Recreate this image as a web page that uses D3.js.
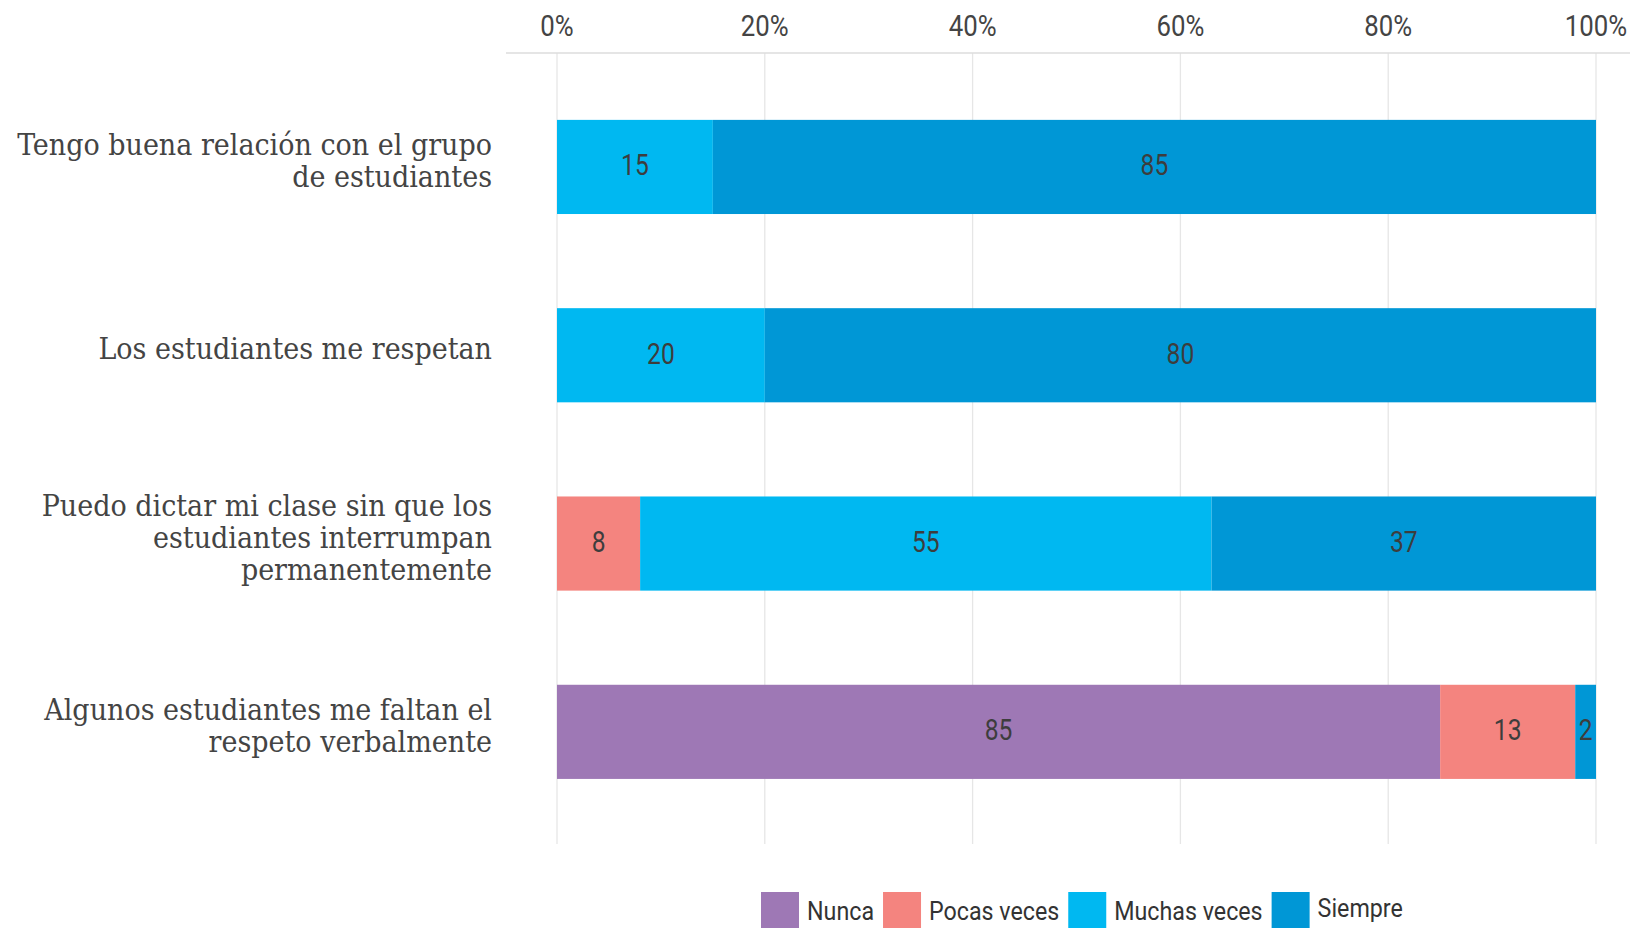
<!DOCTYPE html>
<html><head><meta charset="utf-8">
<script src="https://cdn.jsdelivr.net/npm/d3@7"></script>
<style>
html,body{margin:0;padding:0;background:#fff;}
svg{display:block;}
</style></head>
<body>
<svg id="chart" width="1630" height="928"></svg>
<script>
const categories = [
  ["Tengo buena relación con el grupo", "de estudiantes"],
  ["Los estudiantes me respetan"],
  ["Puedo dictar mi clase sin que los", "estudiantes interrumpan", "permanentemente"],
  ["Algunos estudiantes me faltan el", "respeto verbalmente"]
];
const seriesNames = ["Nunca", "Pocas veces", "Muchas veces", "Siempre"];
const nunca = [0, 0, 0, 85];
const pocas = [0, 0, 8, 13];
const muchas = [15, 20, 55, 0];
const siempre = [85, 80, 37, 2];
const colors = ["#9e78b5", "#f4847f", "#00b8f1", "#0097d6"];
const tickValues = [0, 20, 40, 60, 80, 100];

const svg = d3.select("#chart");
const W = 1630, H = 928;
const x = d3.scaleLinear().domain([0, 100]).range([557, 1596]);
const y = d3.scaleBand().domain(d3.range(categories.length)).range([72.8, 826]).paddingInner(0.5).paddingOuter(0.25);

const rows = categories.map((c, i) => ({i, vals: [nunca[i], pocas[i], muchas[i], siempre[i]]}));
const stack = d3.stack().keys([0,1,2,3]).value((d, k) => d.vals[k]);
const stacked = stack(rows);

// gridlines
svg.append("g").selectAll("line").data(tickValues).join("line")
  .attr("x1", d => x(d)).attr("x2", d => x(d))
  .attr("y1", 53).attr("y2", 844)
  .attr("stroke", "#e6e6e6").attr("stroke-width", 1.3);
// top axis line
svg.append("line").attr("x1", 506).attr("x2", W).attr("y1", 53).attr("y2", 53)
  .attr("stroke", "#dcdcdc").attr("stroke-width", 1.5);

// tick labels
const condensed = "Roboto, 'Liberation Sans', sans-serif";
svg.append("g").selectAll("text").data(tickValues).join("text")
  .attr("transform", d => `translate(${x(d)},${36}) scale(0.86,1)`)
  .attr("text-anchor", "middle")
  .attr("font-family", condensed).attr("font-size", 30)
  .attr("fill", "#444")
  .text(d => d + "%");

// bars
const layers = svg.append("g").selectAll("g").data(stacked).join("g")
  .attr("fill", (d, k) => colors[k]);
layers.selectAll("rect").data(d => d.filter(s => s[1] - s[0] > 0)).join("rect")
  .attr("x", d => x(d[0]))
  .attr("width", d => x(d[1]) - x(d[0]))
  .attr("y", d => y(d.data.i))
  .attr("height", y.bandwidth());

// data labels
const labels = [];
stacked.forEach(layer => layer.forEach(s => { if (s[1] - s[0] > 0) labels.push(s); }));
svg.append("g").selectAll("text").data(labels).join("text")
  .attr("transform", d => `translate(${(x(d[0]) + x(d[1])) / 2},${y(d.data.i) + y.bandwidth() / 2 + 8.5}) scale(0.82,1)`)
  .attr("text-anchor", "middle")
  .attr("font-family", condensed).attr("font-size", 30)
  .attr("fill", "#3d3d3d")
  .text(d => d[1] - d[0]);

// category labels
const lineH = 32;
const cat = svg.append("g").selectAll("text").data(categories).join("text")
  .attr("text-anchor", "end")
  .attr("font-family", "'DejaVu Serif Condensed', 'DejaVu Serif', serif")
  .attr("font-stretch", "condensed")
  .attr("font-size", 30)
  .attr("fill", "#444")
  .attr("y", (d, i) => y(i) + y.bandwidth() / 2 - (d.length - 1) * lineH / 2 + 4);
cat.selectAll("tspan").data(d => d).join("tspan")
  .attr("x", 492)
  .attr("dy", (d, j) => j === 0 ? 0 : lineH)
  .text(d => d);

// legend
const legend = svg.append("g");
let lx = 761;
seriesNames.forEach((name, k) => {
  legend.append("rect").attr("x", lx).attr("y", 892).attr("width", 38).attr("height", 38).attr("fill", colors[k]);
  const t = legend.append("text")
    .attr("transform", `translate(${lx + 46},${k === 3 ? 917 : 920}) scale(0.93,1)`)
    .attr("font-family", condensed).attr("font-size", 25)
    .attr("fill", "#333")
    .text(name);
  const w = t.node().getComputedTextLength() * 0.93;
  lx += 46 + w + 9;
});
</script>
</body></html>
